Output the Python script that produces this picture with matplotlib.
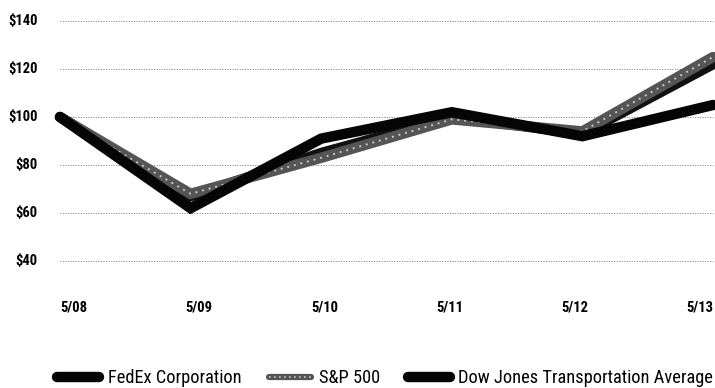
import matplotlib
matplotlib.use("Agg")
import matplotlib.pyplot as plt
from matplotlib import font_manager
from matplotlib.font_manager import FontProperties
from matplotlib.lines import Line2D

# ---- choose a condensed sans font if one is installed ----
ttf = font_manager.fontManager.ttflist
FONT = None
for want in ("Roboto Condensed", "Liberation Sans Narrow", "Open Sans Condensed",
             "Noto Sans Condensed", "Arial Narrow", "DejaVu Sans Condensed"):
    if any(f.name == want for f in ttf):
        FONT = want
        break
if FONT is None:
    for fam in ("Roboto", "Noto Sans", "Open Sans", "DejaVu Sans", "Liberation Sans"):
        if any(f.name == fam and isinstance(f.stretch, str) and "condensed" in f.stretch
               for f in ttf):
            FONT = fam
            break
if FONT is None:
    FONT = "Liberation Sans"
plt.rcParams['font.family'] = [FONT, 'DejaVu Sans']
plt.rcParams['font.stretch'] = 'condensed'

periods = ["5/08", "5/09", "5/10", "5/11", "5/12", "5/13"]
fedex = [100, 62, 91, 102, 92, 105]
sp500 = [100, 68, 83, 99, 94, 125]
dowjones = [100, 67, 85, 100, 93, 122]
yticks = [40, 60, 80, 100, 120, 140]
ytick_labels = ["$40", "$60", "$80", "$100", "$120", "$140"]
series_names = ["FedEx Corporation", "S&P 500", "Dow Jones Transportation Average"]

fig = plt.figure(figsize=(7.15, 3.88), dpi=100)
W, H = 715, 388
ax = fig.add_axes([60 / W, 1 - 261 / H, (713 - 60) / W, (261 - 21) / H])
x = list(range(len(periods)))
ax.set_xlim(0, len(periods) - 1)
ax.set_ylim(40, 140)

for v in yticks:
    ax.axhline(v, color="#8a8a8a", lw=0.7, ls=(0, (1.2, 1.4)), zorder=1, clip_on=False)

lw = 7.5
ax.plot(x, dowjones, color="#111111", lw=lw, solid_capstyle="round",
        solid_joinstyle="miter", zorder=3, clip_on=False)
ax.plot(x, sp500, color="#555555", lw=lw, solid_capstyle="round",
        solid_joinstyle="miter", zorder=4, clip_on=False)
ax.plot(x, sp500, color="#c8c8c8", lw=1.4, ls=(0, (1, 2.5)), zorder=5, clip_on=False)
ax.plot(x, fedex, color="#050505", lw=lw, solid_capstyle="round",
        solid_joinstyle="miter", zorder=6, clip_on=False)

for s in ax.spines.values():
    s.set_visible(False)
ax.set_xticks([])
ax.set_yticks([])

bold = FontProperties(family=[FONT, 'DejaVu Sans'], weight="bold", stretch="condensed", size=10.5)

# y labels
for v, lab in zip(yticks, ytick_labels):
    ax.annotate(lab, xy=(0, v), xycoords=("axes fraction", "data"),
                xytext=(-22, 0), textcoords="offset pixels",
                ha="right", va="center", fontproperties=bold)

# x labels
xlabs = []
for i, lab in enumerate(periods):
    xp = (74 + 125.2 * i) / W
    xlabs.append(fig.text(xp, 1 - 308 / H, lab, ha="center", va="center",
                          fontproperties=bold))

h1 = Line2D([], [], color="#050505", lw=7.5, solid_capstyle="round")
h2a = Line2D([], [], color="#555555", lw=4.5, solid_capstyle="round")
h2b = Line2D([], [], color="#c8c8c8", lw=1.2, ls=(0, (1, 2)))
h3 = Line2D([], [], color="#050505", lw=7.5, solid_capstyle="round")

def make_legend(size):
    fp = FontProperties(family=[FONT, 'DejaVu Sans'], stretch="condensed", size=size)
    return fig.legend([h1, (h2a, h2b), h3], series_names, loc="center right",
                      bbox_to_anchor=(713 / W, 1 - 378 / H), ncol=3, frameon=False,
                      prop=fp, handlelength=2.3, handletextpad=0.45,
                      columnspacing=1.5, borderaxespad=0, borderpad=0)

size = 12.0
leg = make_legend(size)
fig.canvas.draw()
r = fig.canvas.get_renderer()
w = leg.get_window_extent(r).width
target = 713 - 58
size = size * target / w
leg.remove()
leg = make_legend(size)
fig.canvas.draw()
w = leg.get_window_extent(r).width
if w > target:
    leg.remove()
    leg = make_legend(size * target / w)

# keep last x label inside
fig.canvas.draw()
bb = xlabs[-1].get_window_extent(r)
if bb.x1 > W - 1:
    xlabs[-1].set_ha("right")
    xlabs[-1].set_x(713 / W)

fig.savefig("out.png", dpi=100)
